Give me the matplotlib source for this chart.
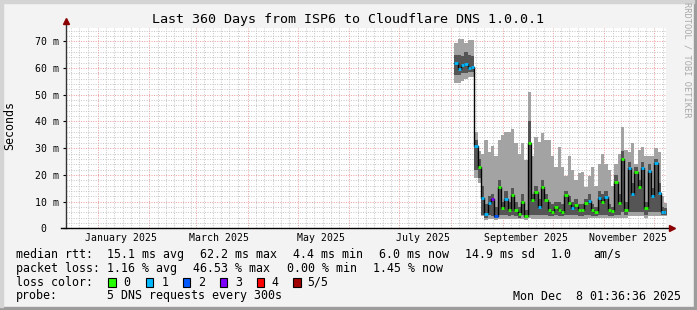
import matplotlib
matplotlib.use("Agg")
import matplotlib.pyplot as plt
import matplotlib.dates as mdates
from matplotlib.patches import Rectangle
import numpy as np
import pandas as pd

# smokeping graph, 360 days, values in ms, one bucket = 2 days
start = pd.Timestamp("2024-12-13 01:36:36")
end = pd.Timestamp("2025-12-08 01:36:36")
first_bucket = pd.Timestamp("2025-08-03 01:36:36")

median_ms = [62, 59.5, 61, 61.5, 60, 60.5,
             31, 23, 11.5, 5.5, 9.5, 11, 4.5, 15.5, 7.5, 11, 7, 12.5, 7, 5.5,
             10, 4.5, 32, 10.5, 13.5, 8, 15.5, 10.5, 7, 6.2, 8, 7, 6.2, 12.5,
             9.4, 7.5, 8.7, 7, 7, 9.4, 10.4, 7, 6, 11.2, 10, 11.6, 7, 6.5, 17.5,
             9.6, 26, 7, 22.5, 13, 21, 15.4, 22.5, 7.5, 21.6, 12, 24.4, 13.4, 6.2, 6]
loss = [1, 1, 1, 1, 1, 1,
        1, 0, 1, 1, 1, 3, 2, 0, 0, 1, 0, 0, 0, 0,
        0, 0, 0, 0, 0, 1, 0, 0, 0, 0, 0, 0, 0, 0,
        0, 1, 0, 0, 0, 0, 1, 0, 0, 1, 0, 1, 0, 0, 0,
        0, 0, 0, 1, 1, 0, 0, 1, 0, 1, 1, 1, 1, 1, 1]
smoke_lo = [54.3, 54.3, 55, 56, 56.7, 56.8,
            19, 17, 4.5, 3, 3.5, 3.5, 3, 3.5, 3.5, 3.5, 3.5, 3.5, 3.5, 3.5,
            3.5, 3, 4, 3.5, 3.5, 3.5, 3.5, 3.5, 3.5, 3.5, 3.5, 3.5, 3.5, 3.5,
            3.5, 3.5, 3.5, 3.5, 3.5, 3.5, 4, 4, 4, 4, 4, 4, 4, 4, 4,
            4, 4, 4, 4.5, 4.5, 4.5, 4.5, 4.5, 4, 4.5, 4.5, 4.5, 4.5, 4.5, 4.5]
smoke_hi = [69.3, 71, 71, 69.5, 70.5, 70.5,
            36, 29, 28, 33, 28.7, 31, 27, 33, 35, 36, 36, 37, 32, 28,
            32, 25.6, 51, 27, 34, 32.5, 35.6, 33, 33, 27, 23, 30.6, 23, 19.4,
            27, 22, 18, 20.6, 21, 15.6, 19.4, 23, 16, 24, 28, 24, 22, 16, 24,
            28, 38, 29.4, 28.7, 32, 24, 29.4, 30.6, 27, 27, 27, 30, 28.7, 12, 9.4]
core_lo = [57.4, 57.5, 58, 58.3, 58.5, 58.7,
           22, 19, 5, 4, 5, 4.5, 4, 5, 5, 5, 4.5, 5, 4.5, 4,
           5, 4, 5, 5, 5, 5, 5, 5, 4.5, 4.5, 5, 4.5, 4.5, 5,
           5, 5, 5, 4.5, 4.5, 5, 5, 4.5, 4.5, 5, 5, 5, 4.5, 4.5, 5,
           5, 6, 5, 6, 6, 6, 6, 6, 5, 6, 6, 6, 6, 5, 5]
core_hi = [65, 65, 64.5, 66, 65, 64.4,
           33, 26, 16, 9, 12, 13, 8, 18, 10, 14, 10, 15, 10, 8,
           13, 7, 40, 13, 16, 11, 18, 13, 10, 9, 10, 10, 9, 14,
           12, 10, 11, 9, 9, 11, 13, 9, 8, 14, 13, 14, 9, 8, 20,
           13, 29, 10, 25, 17, 23, 18, 25, 10, 24, 15, 26, 17, 8, 7.5]

loss_colors = ["#26ff00", "#00b8ff", "#0059ff", "#7e00ff", "#ff0000", "#a10000"]
loss_labels = ["0", "1", "2", "3", "4", "5/5"]

W, H = 697, 310
mono = "DejaVu Sans Mono"
plt.rcParams["font.family"] = mono


def fx(x):
    return x / W


def fy(y):
    return 1 - y / H


fig = plt.figure(figsize=(W / 100, H / 100), dpi=100, facecolor="#f3f3f3")

# 3d frame around the canvas
fig.patches.append(Rectangle((0, 0), 1, 3 / H, transform=fig.transFigure, color="#9c9c9c"))
fig.patches.append(Rectangle((1 - 3 / W, 0), 3 / W, 1, transform=fig.transFigure, color="#9c9c9c"))
fig.patches.append(Rectangle((0, 1 - 3 / H), 1 - 3 / W, 3 / H, transform=fig.transFigure, color="#d4d4d4"))
fig.patches.append(Rectangle((0, 3 / H), 3 / W, 1 - 6 / H, transform=fig.transFigure, color="#d4d4d4"))

ax = fig.add_axes([fx(66), fy(228.3), 600 / W, (228.3 - 28) / H])
ax.set_facecolor("white")

n = len(median_ms)
bucket_start = pd.date_range(first_bucket, periods=n, freq="2D")
xs = mdates.date2num(bucket_start)
edges = np.append(xs, xs[-1] + 2)


def pad(v):
    v = np.asarray(v, dtype=float)
    return np.append(v, v[-1])


ax.fill_between(edges, pad(smoke_lo), pad(smoke_hi), step="post", color="#a3a3a3", lw=0, zorder=2)
ax.fill_between(edges, pad(core_lo), pad(core_hi), step="post", color="#555555", lw=0, zorder=3)
ax.step(edges, pad(median_ms), where="post", color="black", lw=1.0, zorder=4)
ax.hlines(median_ms, xs, xs + 2, colors=[loss_colors[l] for l in loss], lw=2.0, zorder=5)

ax.set_xlim(mdates.date2num(start), mdates.date2num(end))
ax.set_ylim(0, 75)

# grid: month lines red, 5-day lines grey
ax.xaxis.set_major_locator(mdates.MonthLocator())
ax.xaxis.set_minor_locator(mdates.DayLocator(bymonthday=[6, 11, 16, 21, 26]))
ax.yaxis.set_major_locator(plt.MultipleLocator(10))
ax.yaxis.set_minor_locator(plt.MultipleLocator(2))
ax.grid(which="major", color="#eb9a9a", lw=0.7, ls=(0, (1, 1.5)), zorder=1)
ax.grid(which="minor", color="#c4c4c4", lw=0.7, ls=(0, (1, 1.5)), zorder=0)
ax.set_axisbelow(True)

ax.tick_params(axis="x", which="both", length=0, labelbottom=False)
ax.tick_params(axis="y", which="major", length=2.2, width=0.8, pad=2.9, labelsize=7.1)
ax.tick_params(axis="y", which="minor", length=0)
ax.set_yticks(range(0, 71, 10))
ax.set_yticklabels(["0  "] + [f"{v} m" for v in range(10, 71, 10)])

sec = ax.secondary_xaxis("bottom")
sec.xaxis.set_major_locator(mdates.MonthLocator(bymonth=[1, 3, 5, 7, 9, 11], bymonthday=15))
sec.xaxis.set_major_formatter(mdates.DateFormatter("%B %Y"))
sec.tick_params(length=0, pad=3.6, labelsize=7.1)
sec.spines["bottom"].set_visible(False)

for s in ax.spines.values():
    s.set_visible(False)

# axes with arrows
ax.plot([0, 0], [0, 1.03], transform=ax.transAxes, color="#333333", lw=1, clip_on=False, zorder=6)
ax.plot([-5 / 600, 1.008], [0, 0], transform=ax.transAxes, color="black", lw=1, clip_on=False, zorder=6)
ax.plot([0], [1.035], transform=ax.transAxes, marker="^", ms=5, color="#8b0000", clip_on=False, zorder=7)
ax.plot([1.01], [0], transform=ax.transAxes, marker=">", ms=5, color="#8b0000", clip_on=False, zorder=7)

fig.text(fx(348.5), fy(19.3), "Last 360 Days from ISP6 to Cloudflare DNS 1.0.0.1",
         ha="center", va="center", fontsize=9.6)
fig.text(fx(10), fy(125), "Seconds", rotation=90, ha="center", va="center", fontsize=8.4)
fig.text(fx(687), fy(60), "RRDTOOL / TOBI OETIKER", rotation=270, ha="center", va="center",
         fontsize=6.2, color="#a8a8a8")

fs = 8.4
rows = [
    (254.3, [(16, "median rtt:"), (107.3, "15.1 ms avg"), (200, "62.2 ms max"), (293.3, "4.4 ms min"),
             (379.3, "6.0 ms now"), (465, "14.9 ms sd"), (551, "1.0"), (593.3, "am/s")]),
    (268.3, [(16, "packet loss:"), (107.3, "1.16 % avg"), (192.7, "46.53 % max"), (286.7, "0.00 % min"),
             (373.3, "1.45 % now")]),
    (282.3, [(16, "loss color:")]),
    (296, [(16, "probe:"), (107.3, "5 DNS requests every 300s"), (513.3, "Mon Dec  8 01:36:36 2025")]),
]
for y, items in rows:
    for x, t in items:
        fig.text(fx(x), fy(y), t, ha="left", va="center", fontsize=fs)

box_x = [108.3, 145.7, 182.7, 220, 256.7, 293.3]
label_x = [123.3, 161.7, 198.3, 235, 271.7, 307.3]
for bx, lx, c, lab in zip(box_x, label_x, loss_colors, loss_labels):
    fig.patches.append(Rectangle((fx(bx), fy(286.7)), 7.5 / W, 8.4 / H, transform=fig.transFigure,
                                 facecolor=c, edgecolor="black", lw=0.8))
    fig.text(fx(lx), fy(282.3), lab, ha="left", va="center", fontsize=fs)

fig.savefig("out.png", dpi=100, facecolor=fig.get_facecolor())
